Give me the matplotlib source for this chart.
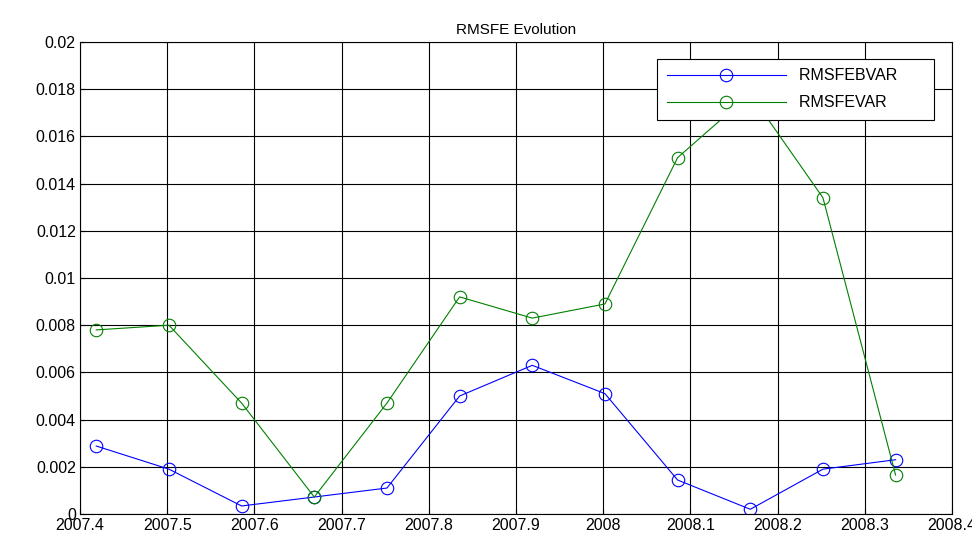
import numpy as np
import matplotlib
matplotlib.use("Agg")
import matplotlib.pyplot as plt

# monthly dates, decimal years
dates = 2007 + np.arange(5, 17) / 12.0 + 0.002
rmsfe_bvar = [0.00288, 0.0019, 0.00034, 0.00072, 0.0011, 0.0050,
              0.0063, 0.0051, 0.00144, 0.0002, 0.0019, 0.0023]
rmsfe_var = [0.0078, 0.0080, 0.0047, 0.00072, 0.0047, 0.0092,
             0.0083, 0.0089, 0.0151, 0.0178, 0.0134, 0.00165]

plt.rcParams['font.family'] = ['Liberation Sans', 'DejaVu Sans']
fig = plt.figure(figsize=(9.72, 5.38), dpi=100)
ax = fig.add_axes([80/972, 1 - 514/538, 872/972, 472/538])

ax.plot(dates, rmsfe_bvar, color='blue', lw=0.8, marker='o', ms=9,
        mfc='none', mec='blue', mew=0.8, label='RMSFEBVAR')
ax.plot(dates, rmsfe_var, color='green', lw=0.8, marker='o', ms=9,
        mfc='none', mec='green', mew=0.8, label='RMSFEVAR')

ax.set_xlim(2007.4, 2008.4)
ax.set_ylim(0, 0.02)
ax.set_xticks(np.linspace(2007.4, 2008.4, 11))
ax.set_xticklabels(['2007.4', '2007.5', '2007.6', '2007.7', '2007.8', '2007.9',
                    '2008', '2008.1', '2008.2', '2008.3', '2008.4'])
ax.set_yticks(np.linspace(0, 0.02, 11))
ax.set_yticklabels(['0', '0.002', '0.004', '0.006', '0.008', '0.01',
                    '0.012', '0.014', '0.016', '0.018', '0.02'])
ax.tick_params(labelsize=11.5, direction='in', pad=3)
ax.grid(True, color='black', lw=0.8)
ax.set_title('RMSFE Evolution', fontsize=11)

leg = ax.legend(loc='upper right', fontsize=11.5, fancybox=False, framealpha=1,
                edgecolor='black', handlelength=7.5, borderpad=0.6,
                labelspacing=0.75, handletextpad=0.8,
                bbox_to_anchor=(0.9885, 0.9815))
leg.get_frame().set_linewidth(0.8)
for t in leg.get_texts():
    t.set_text(t.get_text() + '      ')

fig.savefig('out.png', dpi=100)
